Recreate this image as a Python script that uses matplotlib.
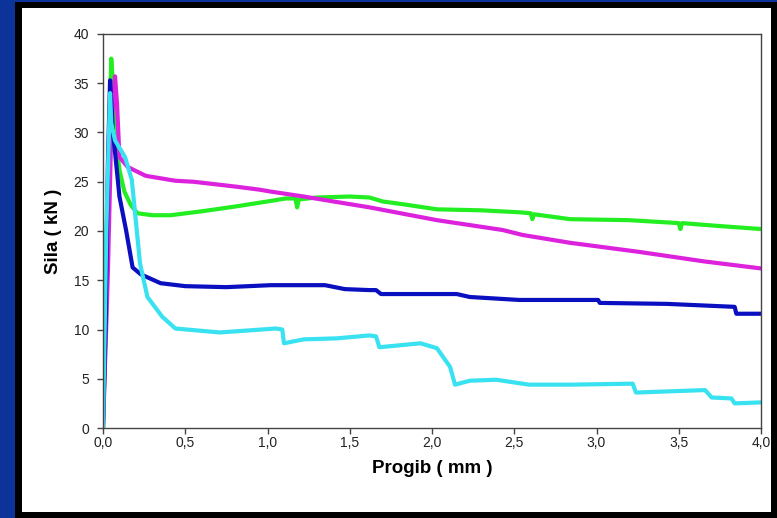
import matplotlib.pyplot as plt
import matplotlib.patches as patches
from matplotlib.ticker import FuncFormatter, MultipleLocator

# series: deflection (mm), force (kN)
green_x = [0.0, 0.02, 0.035, 0.05, 0.065, 0.08, 0.1, 0.13, 0.17, 0.21, 0.3, 0.41, 0.6, 0.81,
           1.0, 1.11, 1.17, 1.18, 1.19, 1.3, 1.5, 1.62, 1.7, 1.83, 2.03, 2.3, 2.53,
           2.6, 2.61, 2.62, 2.84, 3.2, 3.5, 3.51, 3.52, 3.75, 4.0]
green_y = [0.0, 12.0, 27.0, 37.5, 34.0, 29.0, 26.2, 24.0, 22.6, 21.8, 21.6, 21.6, 22.0, 22.5,
           23.0, 23.3, 23.3, 22.4, 23.2, 23.4, 23.5, 23.4, 23.0, 22.7, 22.2, 22.1, 21.9,
           21.8, 21.2, 21.7, 21.2, 21.1, 20.8, 20.2, 20.8, 20.5, 20.2]

magenta_x = [0.0, 0.03, 0.05, 0.073, 0.085, 0.1, 0.15, 0.26, 0.44, 0.55, 0.81, 0.95, 1.02,
             1.22, 1.4, 1.62, 2.03, 2.43, 2.55, 2.84, 3.25, 3.66, 4.0]
magenta_y = [0.0, 16.0, 30.0, 35.7, 33.0, 27.5, 26.5, 25.6, 25.1, 25.0, 24.5, 24.2, 24.0,
             23.5, 23.0, 22.4, 21.1, 20.1, 19.6, 18.8, 17.9, 16.9, 16.2]

blue_x = [0.0, 0.015, 0.03, 0.043, 0.06, 0.1, 0.14, 0.18, 0.23, 0.35, 0.5, 0.75, 1.02, 1.35,
          1.47, 1.62, 1.66, 1.69, 2.15, 2.23, 2.53, 2.84, 3.01, 3.02, 3.43, 3.84, 3.85, 4.0]
blue_y = [0.0, 10.0, 27.0, 35.3, 30.2, 23.5, 20.1, 16.3, 15.6, 14.7, 14.4, 14.3, 14.5, 14.5,
          14.1, 14.0, 14.0, 13.6, 13.6, 13.3, 13.0, 13.0, 13.0, 12.7, 12.6, 12.3, 11.6, 11.6]

cyan_x = [0.0, 0.02, 0.043, 0.05, 0.073, 0.134, 0.175, 0.195, 0.225, 0.27, 0.36, 0.44, 0.71,
          1.05, 1.09, 1.1, 1.22, 1.42, 1.62, 1.66, 1.68, 1.93, 2.03, 2.11, 2.14, 2.23,
          2.39, 2.59, 2.84, 3.22, 3.24, 3.66, 3.7, 3.82, 3.84, 4.0]
cyan_y = [0.0, 20.0, 34.0, 31.0, 29.2, 27.5, 25.2, 21.8, 16.7, 13.3, 11.3, 10.1, 9.7,
          10.1, 10.0, 8.6, 9.0, 9.1, 9.4, 9.3, 8.2, 8.6, 8.1, 6.2, 4.4, 4.8,
          4.9, 4.4, 4.4, 4.5, 3.6, 3.85, 3.1, 3.0, 2.5, 2.6]

x_ticks = [0.0, 0.5, 1.0, 1.5, 2.0, 2.5, 3.0, 3.5, 4.0]

plt.rcParams['font.family'] = ['Liberation Sans', 'DejaVu Sans']

fig = plt.figure(figsize=(7.77, 5.18), dpi=100)
fig.patch.set_facecolor('#0b3399')

# slide frame: black border with white panel
fig.patches.append(patches.Rectangle((15/777, 0), 762/777, 516/518, transform=fig.transFigure,
                                     facecolor='black', edgecolor='none', zorder=-2))
fig.patches.append(patches.Rectangle((22/777, 6/518), 749/777, 504/518, transform=fig.transFigure,
                                     facecolor='white', edgecolor='none', zorder=-1))

ax = fig.add_axes([103/777, 90/518, 658/777, 394/518])
ax.set_zorder(2)
ax.set_facecolor('white')

lw = 3.0
ax.plot(green_x, green_y, color='#22ee22', lw=lw, solid_joinstyle='round')
ax.plot(magenta_x, magenta_y, color='#dd22dd', lw=lw, solid_joinstyle='round')
ax.plot(blue_x, blue_y, color='#0a0fc0', lw=lw, solid_joinstyle='round')
ax.plot(cyan_x, cyan_y, color='#38e2f0', lw=lw, solid_joinstyle='round')

ax.set_xlim(0, 4.0)
ax.set_ylim(0, 40)
ax.set_xticks(x_ticks)
ax.yaxis.set_major_locator(MultipleLocator(5))
ax.xaxis.set_major_formatter(FuncFormatter(lambda v, p: f'{v:.1f}'.replace('.', ',')))

for s in ax.spines.values():
    s.set_color('#444444')
    s.set_linewidth(1.0)
ax.tick_params(direction='out', length=4, width=1, color='#444444',
               labelsize=10, labelcolor='#222222')
ax.tick_params(axis='x', pad=2)
ax.tick_params(axis='y', pad=6)

ax.set_xlabel('Progib ( mm )', fontsize=13.5, fontweight='bold', labelpad=7)
ax.set_ylabel('Sila ( kN )', fontsize=13.5, fontweight='bold', labelpad=8)

fig.savefig('out.png', dpi=100, facecolor=fig.get_facecolor())
